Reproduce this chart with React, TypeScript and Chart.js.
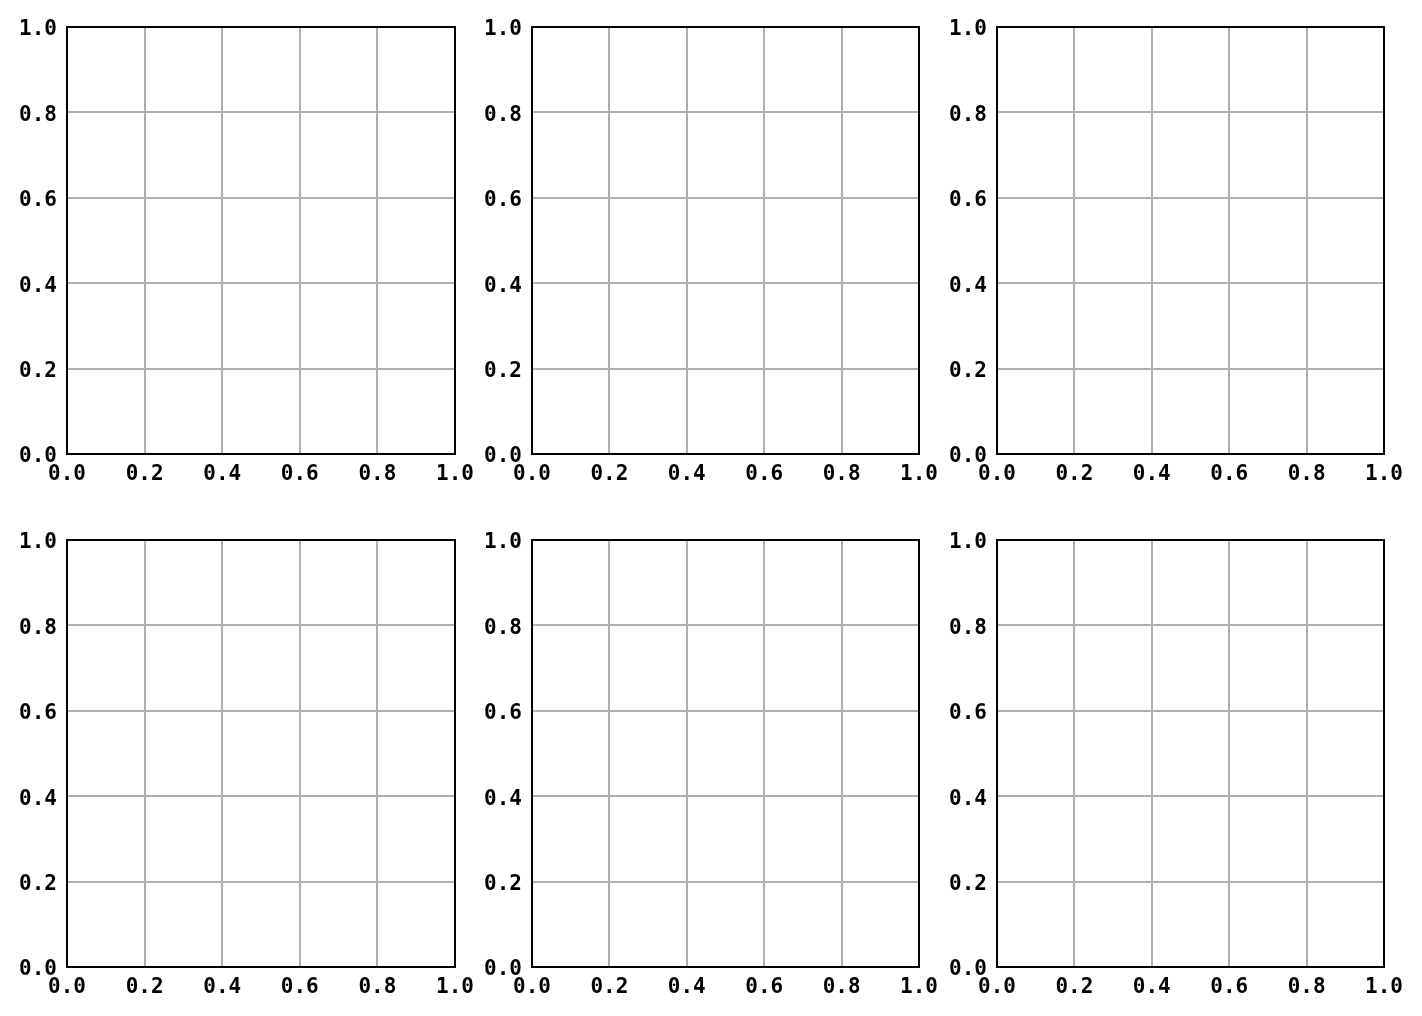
import React, { useEffect, useRef } from "react";
import { Chart, registerables } from "chart.js";

Chart.register(...registerables);

// ---- data (the reference shows six empty axes) ----
const xTickValues = [0, 0.2, 0.4, 0.6, 0.8, 1.0];
const yTickValues = [0, 0.2, 0.4, 0.6, 0.8, 1.0];
const seriesValues: { x: number; y: number }[] = [];
const panelRows = [0, 1];
const panelCols = [0, 1, 2];

// ---- layout ----
const colLefts = [67, 532, 997];
const colWidths = [388, 387, 387];
const rowTops = [27, 540];
const rowHeight = 427;
const Y_AXIS_W = 60;
const TOP_PAD = 30;
const RIGHT_PAD = 30;
const X_AXIS_H = 45;

const FONT = { family: "'DejaVu Sans Mono', monospace", size: 21, weight: "bold" as const };

const framePlugin = {
  id: "frame",
  afterDraw(chart: any) {
    const { ctx, chartArea: a } = chart;
    ctx.save();
    ctx.strokeStyle = "#000000";
    ctx.lineWidth = 2;
    ctx.strokeRect(a.left, a.top, a.right - a.left, a.bottom - a.top);
    ctx.restore();
  },
};

function Panel({ left, top, w, h }: { left: number; top: number; w: number; h: number }) {
  const ref = useRef<HTMLCanvasElement | null>(null);
  useEffect(() => {
    if (!ref.current) return;
    const chart = new Chart(ref.current, {
      type: "scatter",
      data: { datasets: [{ data: seriesValues, pointRadius: 0 }] },
      options: {
        animation: false,
        responsive: false,
        maintainAspectRatio: false,
        layout: { padding: { left: 0, top: TOP_PAD, right: RIGHT_PAD, bottom: 0 } },
        plugins: { legend: { display: false }, tooltip: { enabled: false } },
        scales: {
          x: {
            type: "linear",
            min: 0,
            max: 1,
            afterBuildTicks: (s: any) => {
              s.ticks = xTickValues.map((v) => ({ value: v }));
            },
            afterFit: (s: any) => {
              s.height = X_AXIS_H;
            },
            grid: { color: "#b0b0b0", lineWidth: 2, drawTicks: false },
            border: { display: false },
            ticks: {
              padding: 8,
              maxRotation: 0,
              autoSkip: false,
              color: "#000000",
              font: FONT,
              callback: (v: any) => Number(v).toFixed(1),
            },
          },
          y: {
            type: "linear",
            min: 0,
            max: 1,
            afterBuildTicks: (s: any) => {
              s.ticks = yTickValues.map((v) => ({ value: v }));
            },
            afterFit: (s: any) => {
              s.width = Y_AXIS_W;
            },
            grid: { color: "#b0b0b0", lineWidth: 2, drawTicks: false },
            border: { display: false },
            ticks: {
              padding: 10,
              labelOffset: 3,
              autoSkip: false,
              color: "#000000",
              font: FONT,
              callback: (v: any) => Number(v).toFixed(1),
            },
          },
        },
      },
      plugins: [framePlugin],
    });
    return () => chart.destroy();
  }, []);
  const cw = w + Y_AXIS_W + RIGHT_PAD;
  const ch = h + TOP_PAD + X_AXIS_H;
  return (
    <div
      style={{
        position: "absolute",
        left: left - Y_AXIS_W,
        top: top - TOP_PAD,
        width: cw,
        height: ch,
      }}
    >
      <canvas ref={ref} width={cw} height={ch} style={{ width: cw, height: ch, display: "block" }} />
    </div>
  );
}

export default function App() {
  return (
    <div
      style={{
        position: "absolute",
        left: 0,
        top: 0,
        width: 1422,
        height: 1016,
        background: "#ffffff",
        overflow: "hidden",
      }}
    >
      {panelRows.map((r) =>
        panelCols.map((c) => (
          <Panel key={`${r}-${c}`} left={colLefts[c]} top={rowTops[r]} w={colWidths[c]} h={rowHeight} />
        ))
      )}
    </div>
  );
}
